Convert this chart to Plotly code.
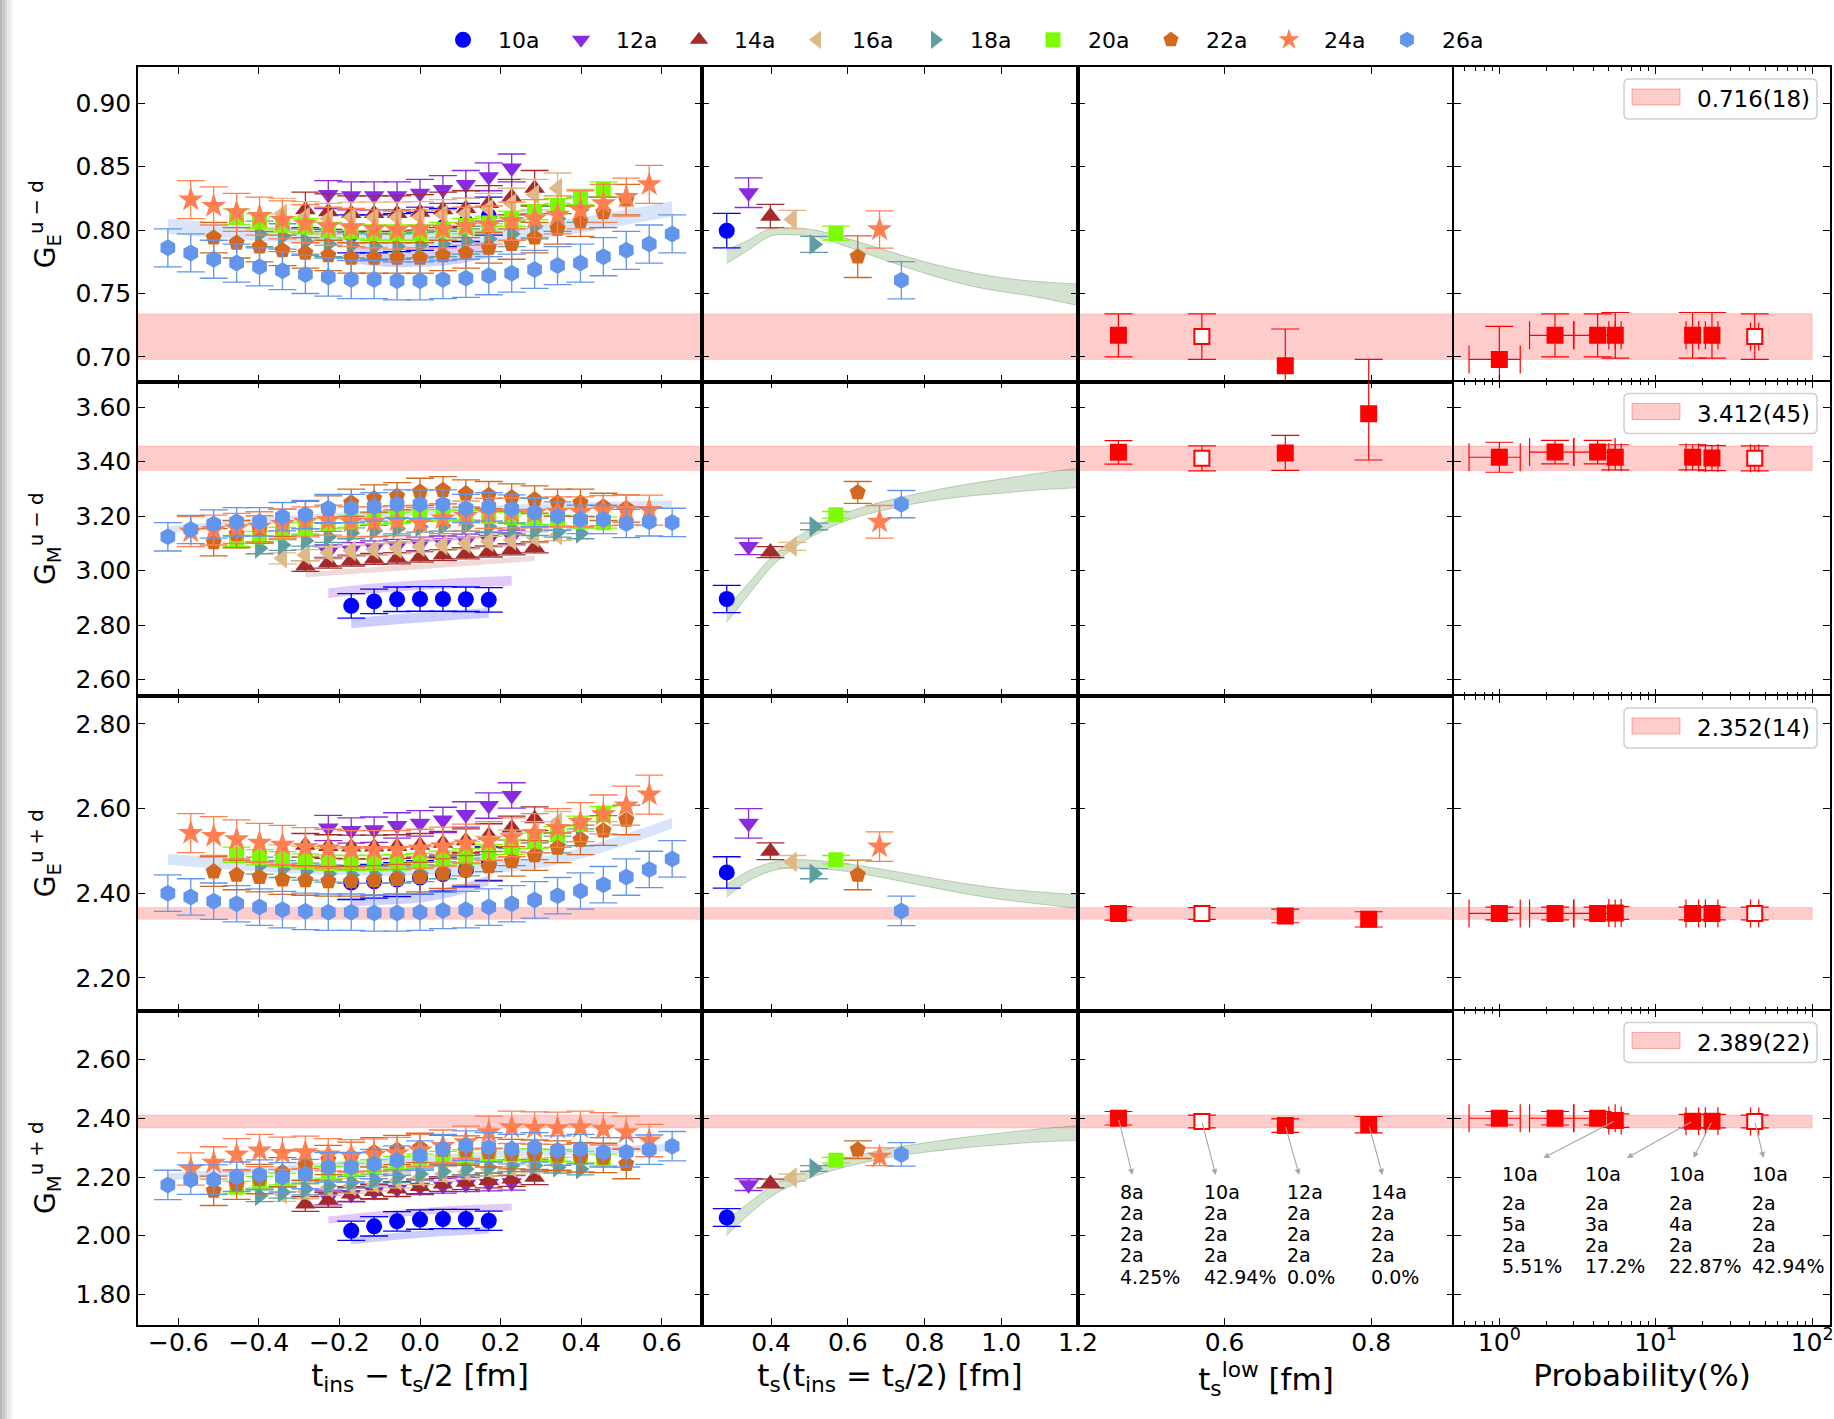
import math
import plotly.graph_objects as go
from plotly.subplots import make_subplots

# ---------------------------------------------------------------------------
# Lattice / source-sink setup
# ---------------------------------------------------------------------------
A_FM = 0.0569                     # lattice spacing [fm]
SOURCE_LABELS = ["10a", "12a", "14a", "16a", "18a", "20a", "22a", "24a", "26a"]
SOURCE_TS = [10, 12, 14, 16, 18, 20, 22, 24, 26]
COLORS = ["blue", "blueviolet", "brown", "burlywood", "cadetblue",
          "lawngreen", "chocolate", "coral", "cornflowerblue"]
SYMBOLS = ["circle", "triangle-down", "triangle-up", "triangle-left", "triangle-right",
           "square", "pentagon", "star", "hexagon"]
MSIZES = [16, 18, 18, 18, 18, 15, 17, 19, 17]

ROW_TITLES = ["G<sub>E</sub><sup>u − d</sup>", "G<sub>M</sub><sup>u − d</sup>",
              "G<sub>E</sub><sup>u + d</sup>", "G<sub>M</sub><sup>u + d</sup>"]

# ---------------------------------------------------------------------------
# Ratio data vs t_ins - t_s/2 (one list per source-sink separation)
# ---------------------------------------------------------------------------
ratio_ge_ud = [
    [0.797, 0.797, 0.798, 0.799, 0.802, 0.806, 0.811],
    [0.828, 0.827, 0.827, 0.827, 0.829, 0.832, 0.836, 0.842, 0.849],
    [0.816, 0.8145, 0.813, 0.813, 0.813, 0.814, 0.816, 0.817, 0.821, 0.826, 0.833],
    [0.813, 0.8105, 0.809, 0.810, 0.810, 0.810, 0.8105, 0.812, 0.813, 0.817, 0.821, 0.828, 0.833],
    [0.797, 0.795, 0.791, 0.789, 0.788, 0.787, 0.787, 0.788, 0.789, 0.791, 0.793, 0.797, 0.803, 0.809, 0.816],
    [0.8105, 0.807, 0.8045, 0.803, 0.800, 0.799, 0.798, 0.798, 0.798, 0.800, 0.803, 0.805, 0.809, 0.814,
     0.819, 0.826, 0.832],
    [0.794, 0.790, 0.787, 0.784, 0.782, 0.780, 0.778, 0.778, 0.778, 0.778, 0.780, 0.782, 0.786, 0.789,
     0.794, 0.801, 0.807, 0.814, 0.824],
    [0.824, 0.819, 0.814, 0.811, 0.808, 0.805, 0.803, 0.802, 0.801, 0.800, 0.801, 0.801, 0.803, 0.804,
     0.807, 0.809, 0.812, 0.816, 0.821, 0.826, 0.836],
    [0.786, 0.782, 0.777, 0.774, 0.771, 0.768, 0.765, 0.763, 0.761, 0.761, 0.760, 0.760, 0.761, 0.762,
     0.764, 0.766, 0.769, 0.772, 0.774, 0.779, 0.784, 0.789, 0.797],
]
ratio_ge_ud_err = [0.015, 0.011, 0.014, 0.012, 0.010, 0.006, 0.012, 0.015, 0.015]

ratio_gm_ud = [
    [2.871, 2.887, 2.895, 2.896, 2.896, 2.895, 2.893],
    [3.069, 3.078, 3.084, 3.090, 3.098, 3.102, 3.109, 3.115, 3.124],
    [3.017, 3.029, 3.037, 3.043, 3.045, 3.051, 3.057, 3.063, 3.070, 3.078, 3.085],
    [3.045, 3.057, 3.066, 3.073, 3.078, 3.082, 3.088, 3.094, 3.100, 3.106, 3.112, 3.122, 3.130],
    [3.082, 3.094, 3.110, 3.124, 3.137, 3.146, 3.155, 3.161, 3.165, 3.165, 3.161, 3.155, 3.149, 3.143, 3.137],
    [3.109, 3.124, 3.139, 3.155, 3.173, 3.179, 3.191, 3.195, 3.204, 3.204, 3.200, 3.200, 3.195, 3.188,
     3.183, 3.179, 3.176],
    [3.104, 3.134, 3.151, 3.176, 3.204, 3.224, 3.249, 3.265, 3.273, 3.289, 3.295, 3.283, 3.277, 3.268,
     3.261, 3.249, 3.249, 3.234, 3.228],
    [3.143, 3.149, 3.155, 3.161, 3.171, 3.179, 3.185, 3.179, 3.179, 3.183, 3.176, 3.191, 3.200, 3.210,
     3.212, 3.212, 3.216, 3.216, 3.220, 3.222, 3.222],
    [3.124, 3.151, 3.171, 3.179, 3.179, 3.198, 3.206, 3.228, 3.228, 3.234, 3.244, 3.244, 3.244, 3.228,
     3.234, 3.226, 3.213, 3.200, 3.188, 3.188, 3.173, 3.179, 3.177],
]
ratio_gm_ud_err = [0.045, 0.025, 0.020, 0.020, 0.020, 0.020, 0.050, 0.055, 0.052]

ratio_ge_upd = [
    [2.425, 2.428, 2.432, 2.437, 2.445, 2.455, 2.470],
    [2.554, 2.548, 2.550, 2.560, 2.565, 2.573, 2.586, 2.607, 2.631],
    [2.513, 2.510, 2.509, 2.509, 2.510, 2.513, 2.518, 2.524, 2.536, 2.554, 2.576],
    [2.489, 2.485, 2.481, 2.481, 2.481, 2.483, 2.485, 2.491, 2.497, 2.509, 2.524, 2.544, 2.568],
    [2.465, 2.457, 2.451, 2.446, 2.443, 2.443, 2.444, 2.447, 2.454, 2.461, 2.471, 2.485, 2.499, 2.515, 2.532],
    [2.491, 2.485, 2.480, 2.475, 2.472, 2.471, 2.472, 2.473, 2.476, 2.481, 2.487, 2.497, 2.509, 2.524,
     2.540, 2.564, 2.587],
    [2.451, 2.443, 2.438, 2.432, 2.430, 2.428, 2.428, 2.430, 2.433, 2.438, 2.446, 2.454, 2.463, 2.475,
     2.489, 2.507, 2.526, 2.548, 2.573],
    [2.542, 2.535, 2.527, 2.519, 2.514, 2.509, 2.505, 2.502, 2.502, 2.502, 2.505, 2.510, 2.517, 2.523,
     2.532, 2.542, 2.554, 2.568, 2.586, 2.607, 2.633],
    [2.400, 2.391, 2.381, 2.375, 2.367, 2.361, 2.357, 2.355, 2.355, 2.353, 2.353, 2.355, 2.359, 2.361,
     2.367, 2.375, 2.384, 2.394, 2.405, 2.420, 2.438, 2.456, 2.481],
]
ratio_ge_upd_err = [0.040, 0.030, 0.028, 0.025, 0.020, 0.018, 0.035, 0.046, 0.043]

ratio_gm_upd = [
    [2.017, 2.032, 2.049, 2.055, 2.057, 2.057, 2.051],
    [2.130, 2.140, 2.150, 2.158, 2.165, 2.170, 2.175, 2.178, 2.180],
    [2.108, 2.122, 2.142, 2.151, 2.159, 2.168, 2.176, 2.182, 2.188, 2.193, 2.199],
    [2.142, 2.151, 2.163, 2.170, 2.178, 2.188, 2.199, 2.210, 2.218, 2.227, 2.233, 2.239, 2.242],
    [2.136, 2.148, 2.159, 2.170, 2.182, 2.190, 2.201, 2.210, 2.219, 2.227, 2.233, 2.239, 2.239, 2.233, 2.227],
    [2.165, 2.182, 2.193, 2.208, 2.216, 2.227, 2.239, 2.250, 2.258, 2.267, 2.273, 2.278, 2.276, 2.276,
     2.273, 2.267, 2.258],
    [2.153, 2.174, 2.193, 2.216, 2.239, 2.258, 2.269, 2.284, 2.292, 2.299, 2.292, 2.290, 2.284, 2.278,
     2.276, 2.273, 2.267, 2.265, 2.244],
    [2.227, 2.248, 2.276, 2.290, 2.281, 2.284, 2.276, 2.272, 2.275, 2.280, 2.290, 2.305, 2.318, 2.352,
     2.369, 2.367, 2.366, 2.369, 2.364, 2.352, 2.324],
    [2.173, 2.191, 2.191, 2.201, 2.208, 2.199, 2.210, 2.233, 2.233, 2.244, 2.256, 2.273, 2.295, 2.307,
     2.301, 2.295, 2.301, 2.290, 2.295, 2.284, 2.284, 2.293, 2.305],
]
ratio_gm_upd_err = [0.033, 0.025, 0.025, 0.025, 0.020, 0.020, 0.050, 0.055, 0.050]

ROW_RATIOS = [ratio_ge_ud, ratio_gm_ud, ratio_ge_upd, ratio_gm_upd]
ROW_RATIO_ERRS = [ratio_ge_ud_err, ratio_gm_ud_err, ratio_ge_upd_err, ratio_gm_upd_err]

# Fit bands of the summed-ratio fit, sampled at -1, -1/2, 0, 1/2, 1 of each t_s window
# (source index, band centres, half width, fill colour)
ratio_bands_ge_ud = [(0, [0.781, 0.778, 0.778, 0.780, 0.785], 0.007, "rgba(0,0,255,0.18)"),
                     (8, [0.803, 0.796, 0.792, 0.800, 0.817], 0.006, "rgba(100,149,237,0.25)")]
ratio_bands_gm_ud = [(0, [2.807, 2.818, 2.828, 2.837, 2.845], 0.018, "rgba(0,0,255,0.2)"),
                     (1, [2.917, 2.935, 2.947, 2.956, 2.963], 0.018, "rgba(138,43,226,0.25)"),
                     (2, [2.985, 3.000, 3.015, 3.030, 3.045], 0.010, "rgba(165,42,42,0.18)"),
                     (8, [3.150, 3.190, 3.215, 3.235, 3.245], 0.012, "rgba(100,149,237,0.25)")]
ratio_bands_ge_upd = [(0, [2.380, 2.385, 2.390, 2.405, 2.430], 0.012, "rgba(0,0,255,0.18)"),
                      (8, [2.480, 2.460, 2.455, 2.475, 2.565], 0.013, "rgba(100,149,237,0.25)")]
ratio_bands_gm_upd = [(0, [1.983, 1.995, 2.005, 2.013, 2.020], 0.012, "rgba(0,0,255,0.2)"),
                      (1, [2.054, 2.070, 2.082, 2.092, 2.098], 0.012, "rgba(138,43,226,0.25)"),
                      (8, [2.200, 2.230, 2.260, 2.285, 2.300], 0.012, "rgba(100,149,237,0.25)")]
ROW_RATIO_BANDS = [ratio_bands_ge_ud, ratio_bands_gm_ud, ratio_bands_ge_upd, ratio_bands_gm_upd]

# ---------------------------------------------------------------------------
# Midpoint values vs t_s  (t_ins = t_s/2)
# ---------------------------------------------------------------------------
mid_ge_ud = [0.7995, 0.8295, 0.811, 0.8084, 0.7887, 0.7976, 0.779, 0.8005, 0.7605]
mid_ge_ud_err = [0.0136, 0.0117, 0.0092, 0.0072, 0.0063, 0.0055, 0.0164, 0.0147, 0.0147]
mid_gm_ud = [2.896, 3.089, 3.068, 3.089, 3.162, 3.205, 3.287, 3.179, 3.244]
mid_gm_ud_err = [0.05, 0.03, 0.02, 0.015, 0.012, 0.012, 0.04, 0.06, 0.05]
mid_ge_upd = [2.449, 2.565, 2.499, 2.474, 2.446, 2.479, 2.443, 2.51, 2.358]
mid_ge_upd_err = [0.037, 0.035, 0.02, 0.015, 0.012, 0.01, 0.035, 0.035, 0.035]
mid_gm_upd = [2.062, 2.174, 2.178, 2.198, 2.229, 2.257, 2.293, 2.269, 2.277]
mid_gm_upd_err = [0.03, 0.02, 0.015, 0.012, 0.01, 0.01, 0.03, 0.03, 0.04]
ROW_MID = [mid_ge_ud, mid_gm_ud, mid_ge_upd, mid_gm_upd]
ROW_MID_ERR = [mid_ge_ud_err, mid_gm_ud_err, mid_ge_upd_err, mid_gm_upd_err]

# Fit curve vs t_s
fit_ts = [0.284, 0.34, 0.40, 0.46, 0.52, 0.60, 0.70, 0.80, 0.91, 1.0, 1.085, 1.2]
fit_ge_ud = [0.779, 0.788, 0.7984, 0.799, 0.797, 0.790, 0.780, 0.7705, 0.762, 0.757, 0.7537, 0.749]
fit_ge_ud_hw = [0.0053, 0.004, 0.003, 0.0027, 0.0027, 0.0033, 0.004, 0.0045, 0.0053, 0.0055, 0.006, 0.0085]
fit_gm_ud = [2.836, 2.93, 3.03, 3.10, 3.15, 3.20, 3.24, 3.27, 3.295, 3.31, 3.325, 3.34]
fit_gm_ud_hw = [0.026, 0.022, 0.018, 0.016, 0.015, 0.015, 0.016, 0.018, 0.022, 0.026, 0.03, 0.036]
fit_ge_upd = [2.405, 2.44, 2.462, 2.47, 2.468, 2.46, 2.445, 2.428, 2.41, 2.398, 2.39, 2.38]
fit_ge_upd_hw = [0.015, 0.012, 0.01, 0.009, 0.009, 0.009, 0.01, 0.011, 0.012, 0.013, 0.014, 0.016]
fit_gm_upd = [2.026, 2.09, 2.15, 2.19, 2.22, 2.25, 2.28, 2.30, 2.318, 2.33, 2.34, 2.35]
fit_gm_upd_hw = [0.025, 0.02, 0.017, 0.015, 0.014, 0.014, 0.015, 0.016, 0.018, 0.02, 0.022, 0.025]
ROW_FIT = [fit_ge_ud, fit_gm_ud, fit_ge_upd, fit_gm_upd]
ROW_FIT_HW = [fit_ge_ud_hw, fit_gm_ud_hw, fit_ge_upd_hw, fit_gm_upd_hw]

# ---------------------------------------------------------------------------
# Fit results vs t_s^low and vs fit probability
# ---------------------------------------------------------------------------
tlow_units = [8, 10, 12, 14]
tlow_prob_labels = ["4.25%", "42.94%", "0.0%", "0.0%"]
tlow_ge_ud = [0.717, 0.716, 0.693, 0.655]
tlow_ge_ud_err = [0.017, 0.018, 0.029, 0.043]
tlow_gm_ud = [3.434, 3.412, 3.432, 3.576]
tlow_gm_ud_err = [0.043, 0.046, 0.064, 0.17]
tlow_ge_upd = [2.352, 2.352, 2.346, 2.338]
tlow_ge_upd_err = [0.016, 0.014, 0.016, 0.018]
tlow_gm_upd = [2.400, 2.389, 2.375, 2.378]
tlow_gm_upd_err = [0.023, 0.022, 0.023, 0.028]
ROW_TLOW = [tlow_ge_ud, tlow_gm_ud, tlow_ge_upd, tlow_gm_upd]
ROW_TLOW_ERR = [tlow_ge_ud_err, tlow_gm_ud_err, tlow_ge_upd_err, tlow_gm_upd_err]
TLOW_CHOSEN = 1

prob = [1.0, 2.27, 4.25, 5.51, 17.2, 22.87, 42.94]
prob_err = [0.36, 0.71, 1.25, 0.5, 1.6, 2.1, 2.6]
prob_ge_ud = [0.698, 0.717, 0.717, 0.717, 0.717, 0.717, 0.716]
prob_ge_ud_err = [0.026, 0.017, 0.017, 0.018, 0.018, 0.018, 0.018]
prob_gm_ud = [3.416, 3.435, 3.435, 3.416, 3.416, 3.413, 3.412]
prob_gm_ud_err = [0.055, 0.043, 0.043, 0.046, 0.046, 0.046, 0.046]
prob_ge_upd = [2.352, 2.352, 2.352, 2.353, 2.352, 2.352, 2.352]
prob_ge_upd_err = [0.015, 0.015, 0.015, 0.015, 0.015, 0.015, 0.015]
prob_gm_upd = [2.400, 2.400, 2.400, 2.392, 2.390, 2.390, 2.389]
prob_gm_upd_err = [0.023, 0.023, 0.023, 0.023, 0.023, 0.023, 0.022]
ROW_PROB = [prob_ge_ud, prob_gm_ud, prob_ge_upd, prob_gm_upd]
ROW_PROB_ERR = [prob_ge_ud_err, prob_gm_ud_err, prob_ge_upd_err, prob_gm_upd_err]
PROB_CHOSEN = 6

# Fit-window descriptions for the annotated fits (last row)
prob_note_idx = [3, 4, 5, 6]
prob_note_text = [["10a", "2a", "5a", "2a", "5.51%"],
                  ["10a", "2a", "3a", "2a", "17.2%"],
                  ["10a", "2a", "4a", "2a", "22.87%"],
                  ["10a", "2a", "2a", "2a", "42.94%"]]

# Final results
final_value = [0.716, 3.412, 2.352, 2.389]
final_err = [0.018, 0.045, 0.014, 0.022]
final_label = ["0.716(18)", "3.412(45)", "2.352(14)", "2.389(22)"]

# ---------------------------------------------------------------------------
# Axes
# ---------------------------------------------------------------------------
Y_RANGES = [[0.6806, 0.9286], [2.54, 3.694], [2.1226, 2.866], [1.696, 2.767]]
Y_TICKS = [[0.70, 0.75, 0.80, 0.85, 0.90],
           [2.6, 2.8, 3.0, 3.2, 3.4, 3.6],
           [2.2, 2.4, 2.6, 2.8],
           [1.8, 2.0, 2.2, 2.4, 2.6]]
PROB_MIN = 0.513
X_RANGES = [[-0.7, 0.7], [0.22, 1.2001], [0.4, 0.913], [math.log10(PROB_MIN), math.log10(130)]]
X_TICKS = [[-0.6, -0.4, -0.2, 0.0, 0.2, 0.4, 0.6], [0.4, 0.6, 0.8, 1.0, 1.2], [0.6, 0.8], [1, 10, 100]]
X_TITLES = ["t<sub>ins</sub> − t<sub>s</sub>/2 [fm]",
            "t<sub>s</sub>(t<sub>ins</sub> = t<sub>s</sub>/2) [fm]",
            "t<sub>s</sub><sup>low</sup> [fm]",
            "Probability(%)"]

FONT = "DejaVu Sans"
W, H = 1834, 1419
ML, MR, MT, MB = 138, 4, 67, 94
PW, PH = W - ML - MR, H - MT - MB
ROW_PX = PH / 4


def xpaper(px):
    return (px - ML) / PW


def ypaper(py):
    return (H - MB - py) / PH


def aid(r, c):
    return (r - 1) * 4 + c


def ref(letter, k):
    return letter if k == 1 else f"{letter}{k}"


def rounded_box_path(x0, y0, x1, y1, rad):
    """SVG path (paper coords) of a rounded rectangle given in page pixels."""
    pts = [("M", [(x0 + rad, y0)]), ("L", [(x1 - rad, y0)]), ("Q", [(x1, y0), (x1, y0 + rad)]),
           ("L", [(x1, y1 - rad)]), ("Q", [(x1, y1), (x1 - rad, y1)]), ("L", [(x0 + rad, y1)]),
           ("Q", [(x0, y1), (x0, y1 - rad)]), ("L", [(x0, y0 + rad)]), ("Q", [(x0, y0), (x0 + rad, y0)])]
    out = []
    for cmd, pp in pts:
        out.append(cmd + " " + " ".join(f"{xpaper(px):.5f},{ypaper(py):.5f}" for px, py in pp))
    return " ".join(out) + " Z"


fig = make_subplots(rows=4, cols=4, column_widths=[1.5, 1, 1, 1],
                    horizontal_spacing=0, vertical_spacing=0)

shapes = []
annotations = []

for r in range(1, 5):
    i = r - 1
    lo, hi = final_value[i] - final_err[i], final_value[i] + final_err[i]

    # final-result band across the first three columns
    for c in (1, 2, 3):
        k = aid(r, c)
        shapes.append(dict(type="rect", xref=ref("x", k) + " domain", yref=ref("y", k), x0=0, x1=1,
                           y0=lo, y1=hi, fillcolor="rgba(255,0,0,0.2)",
                           line=dict(color="rgba(255,0,0,0.12)", width=1), layer="below"))

    # --- column 1: ratios ---
    for (j, centres, hw, fcol) in ROW_RATIO_BANDS[i]:
        half = SOURCE_TS[j] // 2 - 2
        bx = [f * half * A_FM for f in (-1, -0.5, 0, 0.5, 1)]
        fig.add_trace(go.Scatter(x=bx, y=[v + hw for v in centres], mode="lines",
                                 line=dict(width=0, shape="spline"), showlegend=False,
                                 hoverinfo="skip"), row=r, col=1)
        fig.add_trace(go.Scatter(x=bx, y=[v - hw for v in centres], mode="lines",
                                 line=dict(width=0, shape="spline"), fill="tonexty",
                                 fillcolor=fcol, showlegend=False, hoverinfo="skip"), row=r, col=1)
    for j, n in enumerate(SOURCE_TS):
        half = n // 2 - 2
        xs = [k * A_FM for k in range(-half, half + 1)]
        fig.add_trace(go.Scatter(
            x=xs, y=ROW_RATIOS[i][j], mode="markers", name=SOURCE_LABELS[j],
            legendgroup=SOURCE_LABELS[j], showlegend=(r == 1),
            marker=dict(symbol=SYMBOLS[j], color=COLORS[j], size=MSIZES[j], line=dict(width=0)),
            error_y=dict(type="constant", value=ROW_RATIO_ERRS[i][j], color=COLORS[j],
                         thickness=1.3, width=14)), row=r, col=1)

    # --- column 2: midpoints vs t_s ---
    fig.add_trace(go.Scatter(x=fit_ts, y=[v + h for v, h in zip(ROW_FIT[i], ROW_FIT_HW[i])],
                             mode="lines", line=dict(width=1, color="rgba(85,140,70,0.35)", shape="spline"),
                             showlegend=False, hoverinfo="skip"), row=r, col=2)
    fig.add_trace(go.Scatter(x=fit_ts, y=[v - h for v, h in zip(ROW_FIT[i], ROW_FIT_HW[i])],
                             mode="lines", line=dict(width=1, color="rgba(85,140,70,0.35)", shape="spline"),
                             fill="tonexty", fillcolor="rgba(85,140,70,0.25)",
                             showlegend=False, hoverinfo="skip"), row=r, col=2)
    for j, n in enumerate(SOURCE_TS):
        fig.add_trace(go.Scatter(
            x=[n * A_FM / 2], y=[ROW_MID[i][j]], mode="markers", showlegend=False,
            legendgroup=SOURCE_LABELS[j],
            marker=dict(symbol=SYMBOLS[j], color=COLORS[j], size=MSIZES[j], line=dict(width=0)),
            error_y=dict(type="constant", value=ROW_MID_ERR[i][j], color=COLORS[j],
                         thickness=1.3, width=14)), row=r, col=2)

    # --- column 3: fit results vs t_s^low ---
    tl_x = [u * A_FM for u in tlow_units]
    fig.add_trace(go.Scatter(
        x=tl_x, y=ROW_TLOW[i], mode="markers", showlegend=False,
        marker=dict(symbol="square", size=15,
                    color=["white" if k == TLOW_CHOSEN else "red" for k in range(len(tl_x))],
                    line=dict(color="red", width=2)),
        error_y=dict(type="data", array=ROW_TLOW_ERR[i], color="red", thickness=1.2, width=14)),
        row=r, col=3)

    # --- column 4: fit results vs probability ---
    fig.add_trace(go.Scatter(
        x=[PROB_MIN, 100, 100, PROB_MIN], y=[lo, lo, hi, hi], fill="toself", mode="lines",
        fillcolor="rgba(255,0,0,0.2)", line=dict(color="rgba(255,0,0,0.15)", width=1),
        name=final_label[i], showlegend=False, hoverinfo="skip"),
        row=r, col=4)
    fig.add_trace(go.Scatter(
        x=prob, y=ROW_PROB[i], mode="markers", showlegend=False,
        marker=dict(symbol="square", size=15,
                    color=["white" if k == PROB_CHOSEN else "red" for k in range(len(prob))],
                    line=dict(color="red", width=2)),
        error_y=dict(type="data", array=ROW_PROB_ERR[i], color="red", thickness=1.2, width=14),
        error_x=dict(type="data", array=prob_err, color="red", thickness=1.2, width=14)),
        row=r, col=4)

    # legend-style key for the final band (top right of the probability panel)
    oy = (r - 1) * ROW_PX
    shapes.append(dict(type="path", xref="paper", yref="paper",
                       path=rounded_box_path(1624, 79 + oy, 1817, 119 + oy, 5),
                       fillcolor="rgba(255,255,255,0.85)", line=dict(color="#cfcfcf", width=1.5),
                       layer="above"))
    shapes.append(dict(type="rect", xref="paper", yref="paper",
                       x0=xpaper(1632), x1=xpaper(1680), y0=ypaper(105 + oy), y1=ypaper(89 + oy),
                       fillcolor="rgba(255,0,0,0.2)", line=dict(color="rgba(255,0,0,0.3)", width=1),
                       layer="above"))
    annotations.append(dict(x=xpaper(1695), y=ypaper(99 + oy), xref="paper", yref="paper",
                            text=final_label[i], showarrow=False, xanchor="left", yanchor="middle",
                            font=dict(family=FONT, size=23, color="black")))

# ---------------------------------------------------------------------------
# Axis styling
# ---------------------------------------------------------------------------
axis_common = dict(showline=True, linecolor="black", linewidth=1.5, mirror="allticks",
                   ticks="inside", ticklen=7, tickwidth=1.2, tickcolor="black",
                   showgrid=False, zeroline=False, automargin=False,
                   tickfont=dict(family=FONT, size=25, color="black"))
for r in range(1, 5):
    for c in range(1, 5):
        k = aid(r, c)
        xa = dict(axis_common, range=X_RANGES[c - 1], tickvals=X_TICKS[c - 1],
                  showticklabels=(r == 4), ticklabelstandoff=-6)
        if c == 1:
            xa["ticktext"] = [f"{v:.1f}".replace("-", "−") for v in X_TICKS[0]]
        elif c == 2:
            xa["ticktext"] = [f"{v:.1f}" for v in X_TICKS[1]]
        elif c == 3:
            xa["ticktext"] = [f"{v:.1f}" for v in X_TICKS[2]]
        else:
            xa["type"] = "log"
            xa["ticktext"] = ["10<sup>0</sup>", "10<sup>1</sup>", "10<sup>2</sup>"]
            xa["minor"] = dict(ticks="inside", ticklen=4, tickwidth=1, tickcolor="black",
                               tickvals=[0.6, 0.7, 0.8, 0.9, 2, 3, 4, 5, 6, 7, 8, 9,
                                         20, 30, 40, 50, 60, 70, 80, 90], showgrid=False)
        if r == 4:
            xa["title"] = dict(text=X_TITLES[c - 1], font=dict(family=FONT, size=31, color="black"),
                               standoff=4)
        fig.layout[ref("xaxis", k)].update(xa)

        ya = dict(axis_common, range=Y_RANGES[r - 1], tickvals=Y_TICKS[r - 1],
                  ticktext=[f"{v:.2f}" for v in Y_TICKS[r - 1]], showticklabels=(c == 1))
        if c == 1:
            ya["title"] = dict(text=ROW_TITLES[r - 1], font=dict(family=FONT, size=28, color="black"),
                               standoff=12)
        fig.layout[ref("yaxis", k)].update(ya)

# ---------------------------------------------------------------------------
# Annotations on the last row: fit windows and probabilities
# ---------------------------------------------------------------------------
k3, k4 = aid(4, 3), aid(4, 4)
row4_per_px = (Y_RANGES[3][1] - Y_RANGES[3][0]) / ROW_PX
row4_top_px = H - MB - ROW_PX
y_head3 = Y_RANGES[3][1] - (1175 - row4_top_px) * row4_per_px
y_head4 = Y_RANGES[3][1] - (1158 - row4_top_px) * row4_per_px
for m, u in enumerate(tlow_units):
    x0 = u * A_FM
    annotations.append(dict(x=x0 + 0.019, y=y_head3, xref=f"x{k3}", yref=f"y{k3}",
                            ax=x0, ay=tlow_gm_upd[m], axref=f"x{k3}", ayref=f"y{k3}",
                            text="", showarrow=True, arrowhead=2, arrowsize=1.1,
                            arrowwidth=1.1, arrowcolor="#a8a8a8", standoff=0, startstandoff=0))
    lines = [f"{u}a", "2a", "2a", "2a", tlow_prob_labels[m]]
    for q, t in enumerate(lines):
        annotations.append(dict(x=x0, y=ypaper(1191.7 + q * 21.25), xref=f"x{k3}", yref="paper",
                                text=t, showarrow=False, xanchor="left", yanchor="middle",
                                font=dict(family=FONT, size=19, color="black")))

head_log = [0.281, 0.815, 1.241, 1.689]
text_frac = [0.122, 0.344, 0.566, 0.788]
for m, idx in enumerate(prob_note_idx):
    annotations.append(dict(x=head_log[m], y=y_head4, xref=f"x{k4}", yref=f"y{k4}",
                            ax=math.log10(prob[idx]), ay=prob_gm_upd[idx],
                            axref=f"x{k4}", ayref=f"y{k4}",
                            text="", showarrow=True, arrowhead=2, arrowsize=1.1,
                            arrowwidth=1.1, arrowcolor="#a8a8a8", standoff=0, startstandoff=0))
    ys = [1174, 1202.7, 1223.5, 1244.5, 1266]
    for q, t in enumerate(prob_note_text[m]):
        annotations.append(dict(x=text_frac[m], y=ypaper(ys[q]), xref=f"x{k4} domain", yref="paper",
                                text=t, showarrow=False, xanchor="left", yanchor="middle",
                                font=dict(family=FONT, size=19, color="black")))

# soft shadow along the left edge of the page
for s, g in enumerate(["#b4b4b4", "#c6c6c6", "#d8d8d8", "#e8e8e8", "#f4f4f4"]):
    shapes.append(dict(type="rect", xref="paper", yref="paper",
                       x0=xpaper(s * 2.5), x1=xpaper((s + 1) * 2.5),
                       y0=ypaper(H), y1=ypaper(0), fillcolor=g, line=dict(width=0), layer="below"))

# ---------------------------------------------------------------------------
# Legend (source-sink separations)
# ---------------------------------------------------------------------------
fig.update_layout(
    width=W, height=H, margin=dict(l=ML, r=MR, t=MT, b=MB, autoexpand=False),
    paper_bgcolor="white", plot_bgcolor="white",
    font=dict(family=FONT, color="black"),
    shapes=shapes, annotations=annotations,
    legend=dict(orientation="h", x=xpaper(428), y=ypaper(40), xanchor="left", yanchor="middle",
                font=dict(family=FONT, size=22, color="black"), itemwidth=60, entrywidth=43,
                bgcolor="rgba(0,0,0,0)", borderwidth=0, traceorder="normal"),
)

fig.write_html("out.html")
